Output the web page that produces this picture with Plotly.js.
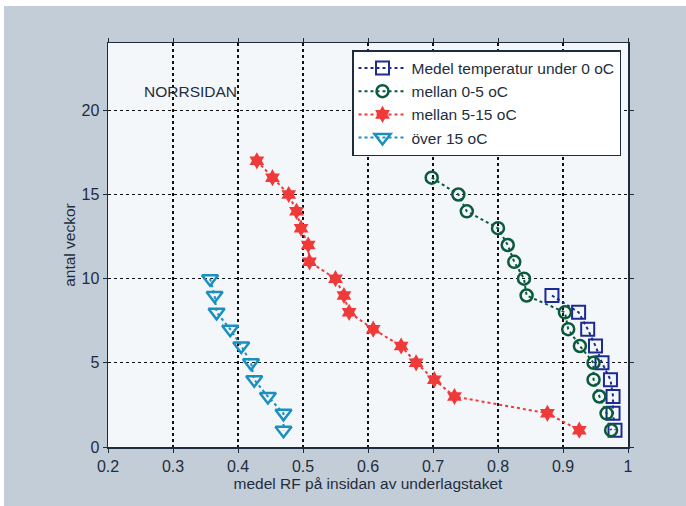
<!DOCTYPE html>
<html>
<head>
<meta charset="utf-8">
<script src="https://cdn.plot.ly/plotly-3.0.1.min.js"></script>
<style>
  html, body { margin:0; padding:0; background:#ffffff; width:686px; height:506px; overflow:hidden; }
  #chart { position:absolute; left:4px; top:6px; width:682px; height:500px; }
</style>
</head>
<body>
<div id="chart"></div>
<script>
// Data
const seriesNames = ["Medel temperatur under 0 oC", "mellan 0-5 oC", "mellan 5-15 oC", "över 15 oC"];

const under0_x = [0.883, 0.924, 0.938, 0.950, 0.960, 0.973, 0.977, 0.977, 0.980];
const under0_y = [9, 8, 7, 6, 5, 4, 3, 2, 1];

const m0_5_x = [0.698, 0.739, 0.752, 0.800, 0.815, 0.825, 0.840, 0.844, 0.903, 0.908, 0.926, 0.947, 0.947, 0.956, 0.967, 0.974];
const m0_5_y = [16, 15, 14, 13, 12, 11, 10, 9, 8, 7, 6, 5, 4, 3, 2, 1];

const m5_15_x = [0.429, 0.453, 0.478, 0.490, 0.497, 0.508, 0.510, 0.550, 0.563, 0.571, 0.608, 0.651, 0.674, 0.702, 0.733, 0.876, 0.925];
const m5_15_y = [17, 16, 15, 14, 13, 12, 11, 10, 9, 8, 7, 6, 5, 4, 3, 2, 1];

const over15_x = [0.357, 0.364, 0.367, 0.388, 0.405, 0.420, 0.425, 0.446, 0.470, 0.470];
const over15_y = [10, 9, 8, 7, 6, 5, 4, 3, 2, 1];

const xTicks = [0.2, 0.3, 0.4, 0.5, 0.6, 0.7, 0.8, 0.9, 1];
const xTickText = ["0.2", "0.3", "0.4", "0.5", "0.6", "0.7", "0.8", "0.9", "1"];
const yTicks = [0, 5, 10, 15, 20];

const txt = "#1e2d3d";
const fontFam = "Liberation Sans, Arial, sans-serif";

const traces = [
  { x: under0_x, y: under0_y, name: seriesNames[0], mode: "lines+markers",
    line: { color: "#1c2a96", dash: "dot", width: 2 },
    marker: { symbol: "square-open", size: 13, color: "#1c2a96", line: { width: 2, color: "#1c2a96" } } },
  { x: m0_5_x, y: m0_5_y, name: seriesNames[1], mode: "lines+markers",
    line: { color: "#0b5a3c", dash: "dot", width: 2 },
    marker: { symbol: "circle-open", size: 12, color: "#0b5a3c", line: { width: 2.5, color: "#0b5a3c" } } },
  { x: m5_15_x, y: m5_15_y, name: seriesNames[2], mode: "lines+markers",
    line: { color: "#ee3a3a", dash: "dot", width: 2 },
    marker: { symbol: "hexagram", size: 13, color: "#f03a3a", line: { width: 0 } } },
  { x: over15_x, y: over15_y, name: seriesNames[3], mode: "lines+markers",
    line: { color: "#1b8fbf", dash: "dot", width: 2 },
    marker: { symbol: "triangle-down-open", size: 14, color: "#1b8fbf", line: { width: 2.5, color: "#1b8fbf" } } }
];

const axisCommon = {
  showline: true, mirror: "ticks", linecolor: "#1e2d3d", linewidth: 1.5,
  showgrid: true, gridcolor: "#111111", gridwidth: 1.3, griddash: "3px,3px",
  zeroline: false, ticks: "outside", ticklen: 4, tickcolor: "#1e2d3d",
  tickfont: { family: fontFam, size: 16, color: txt }
};

const layout = {
  width: 682, height: 500,
  margin: { l: 104, r: 58, t: 37, b: 59 },
  paper_bgcolor: "#c3cdd8",
  plot_bgcolor: "#f4f7fa",
  font: { family: fontFam, size: 15, color: txt },
  showlegend: true,
  legend: {
    x: (352 - 108) / 520, y: 1 - (50 - 43) / 404, xanchor: "left", yanchor: "top",
    bgcolor: "#ffffff", bordercolor: "#1e2d3d", borderwidth: 1.5,
    font: { family: fontFam, size: 15.5, color: txt },
    itemwidth: 48, tracegroupgap: 0
  },
  xaxis: Object.assign({}, axisCommon, {
    range: [0.2, 1], tickvals: xTicks, ticktext: xTickText,
    title: { text: "medel RF på insidan av underlagstaket", font: { family: fontFam, size: 15.5, color: txt }, standoff: 3 }
  }),
  yaxis: Object.assign({}, axisCommon, {
    range: [0, 24], tickvals: yTicks,
    title: { text: "antal veckor", font: { family: fontFam, size: 15.5, color: txt }, standoff: 2 }
  }),
  annotations: [
    { x: 0.2523, y: 21.1, xref: "x", yref: "y", text: "NORRSIDAN", showarrow: false,
      xanchor: "left", yanchor: "middle", font: { family: fontFam, size: 15.5, color: txt } }
  ]
};

Plotly.newPlot("chart", traces, layout, { displayModeBar: false, staticPlot: true });
</script>
</body>
</html>
